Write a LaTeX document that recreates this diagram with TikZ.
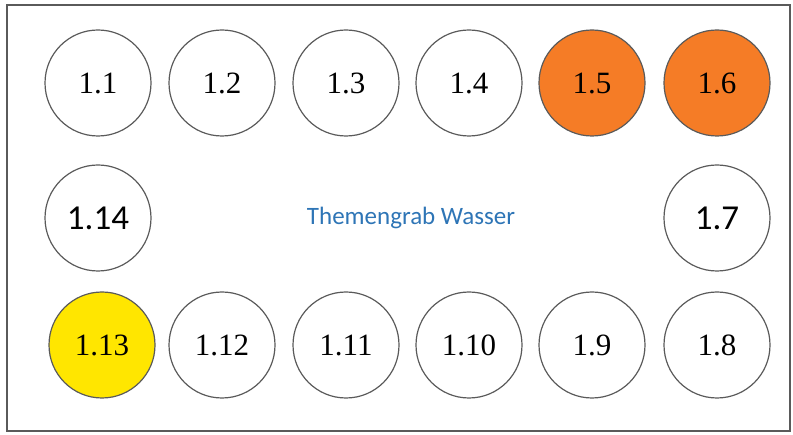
\documentclass[tikz,border=0pt]{standalone}
\usepackage{fontspec}
\setmainfont{Liberation Serif}
\newfontfamily\calibri{Carlito}
\usepackage{xcolor}
\usetikzlibrary{positioning}

\definecolor{randgrau}{RGB}{90,90,90}
\definecolor{graborange}{RGB}{245,124,38}
\definecolor{grabgelb}{RGB}{255,230,0}
\definecolor{titelblau}{RGB}{46,117,182}

\begin{document}
\begin{tikzpicture}[x=1pt, y=-1pt,
    grab/.style={circle, draw=randgrau, line width=1.2pt, minimum size=106pt,
                 inner sep=0pt, font=\fontsize{31}{31}\selectfont},
    grabgross/.style={grab, font=\calibri\fontsize{35}{35}\selectfont}]

    % =================================================================
    % 1. RAHMEN
    % =================================================================
    \useasboundingbox (0,0) rectangle (793,435);
    \draw[randgrau, line width=2pt] (7,5) rectangle (790,431);

    % =================================================================
    % 2. OBERE REIHE
    % =================================================================
    \node[grab] (g11) at (98,83) {1.1};
    \node[grab] (g12) at (222,83) {1.2};
    \node[grab] (g13) at (346,83) {1.3};
    \node[grab] (g14) at (469,83) {1.4};
    \node[grab, fill=graborange] (g15) at (592,83) {1.5};
    \node[grab, fill=graborange] (g16) at (717,83) {1.6};

    % =================================================================
    % 3. MITTLERE REIHE UND TITEL
    % =================================================================
    \node[grabgross] (g114) at (98,218) {1.14};
    \node[grabgross] (g17) at (717,218) {1.7};
    \node[font=\calibri\fontsize{25}{25}\selectfont, text=titelblau] (titel) at (411,218) {Themengrab Wasser};

    % =================================================================
    % 4. UNTERE REIHE
    % =================================================================
    \node[grab, fill=grabgelb] (g113) at (102,345) {1.13};
    \node[grab] (g112) at (222,345) {1.12};
    \node[grab] (g111) at (346,345) {1.11};
    \node[grab] (g110) at (469,345) {1.10};
    \node[grab] (g19) at (592,345) {1.9};
    \node[grab] (g18) at (717,345) {1.8};

\end{tikzpicture}
\end{document}
